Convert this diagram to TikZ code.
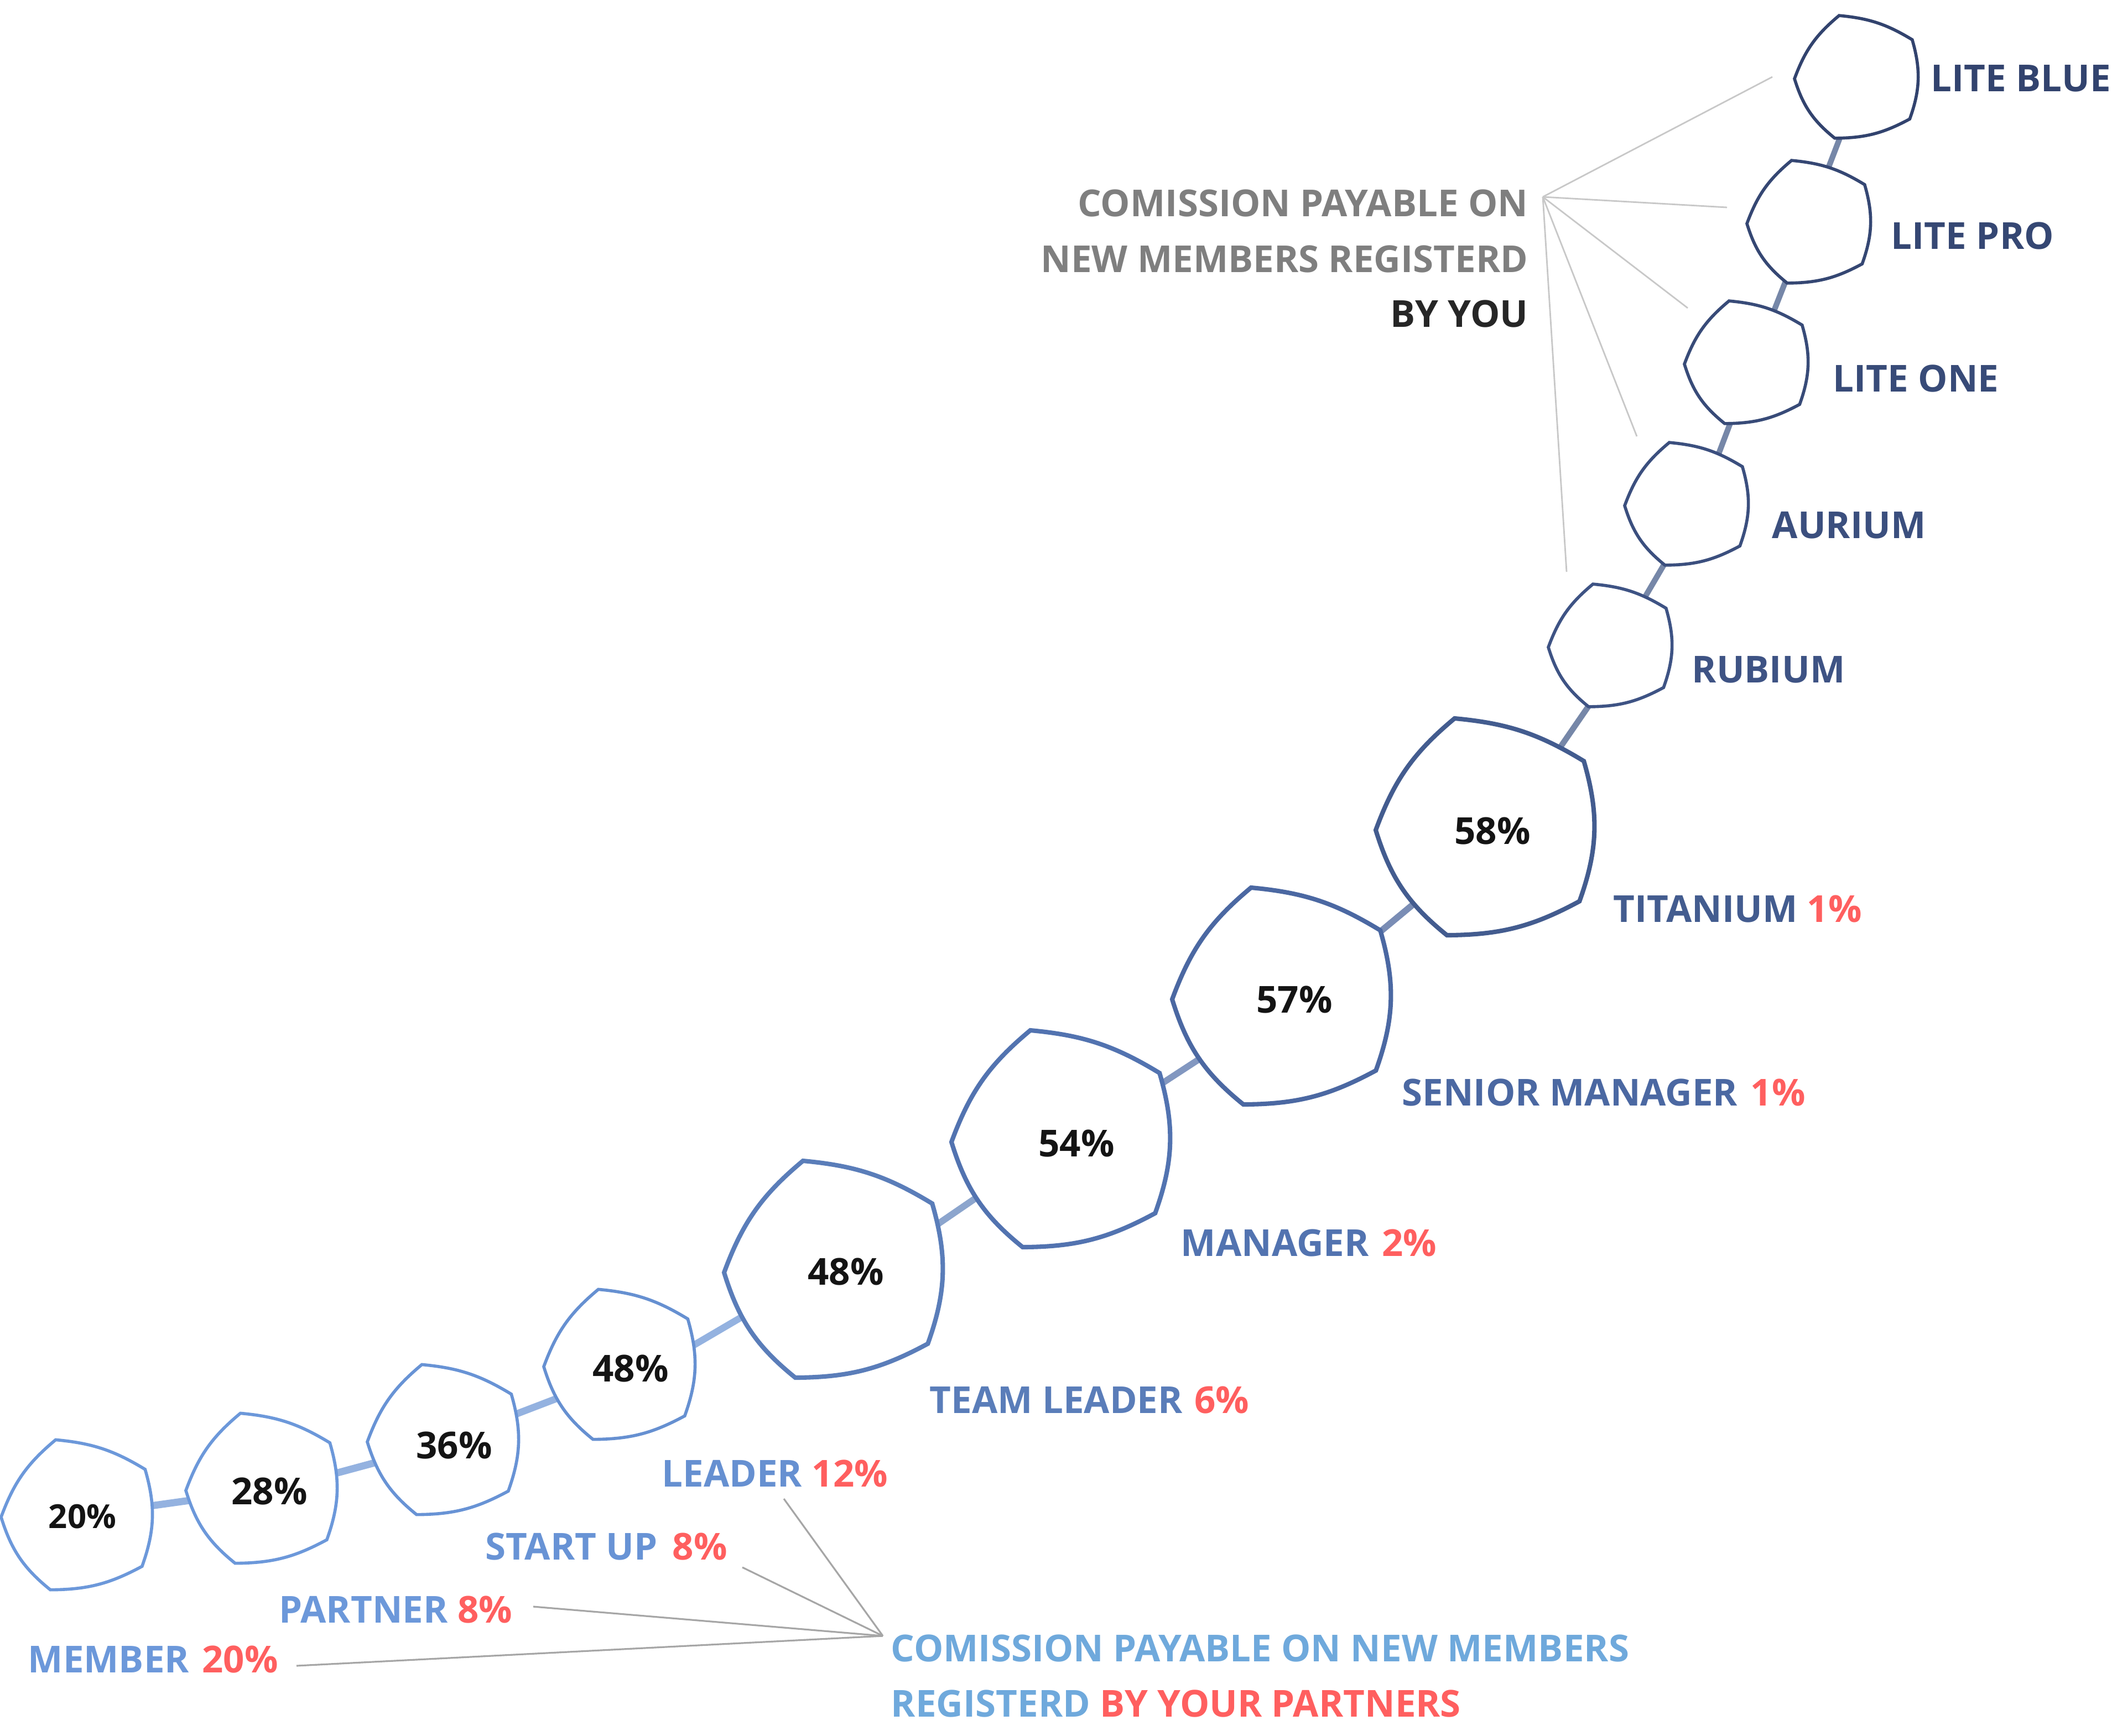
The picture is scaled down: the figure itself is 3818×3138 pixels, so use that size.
\documentclass[tikz,border=0pt]{standalone}
\usepackage{fontspec}
\setmainfont{Open Sans}
\usetikzlibrary{calc}
\definecolor{nA}{HTML}{6C98DA}
\definecolor{nB}{HTML}{6893D5}
\definecolor{nC}{HTML}{6690D1}
\definecolor{nD}{HTML}{5A7DB9}
\definecolor{nE}{HTML}{5273B0}
\definecolor{nF}{HTML}{4B68A2}
\definecolor{nG}{HTML}{435C8F}
\definecolor{nH}{HTML}{3E5384}
\definecolor{nI}{HTML}{3B4F7E}
\definecolor{nJ}{HTML}{384B78}
\definecolor{nK}{HTML}{354773}
\definecolor{nL}{HTML}{32436E}
\definecolor{cA}{HTML}{94B2E0}
\definecolor{cB}{HTML}{8CA5CD}
\definecolor{cC}{HTML}{8297C0}
\definecolor{cD}{HTML}{7A8DB5}
\definecolor{cE}{HTML}{7687A8}
\definecolor{redp}{HTML}{FF5F5F}
\definecolor{pctc}{HTML}{141414}
\definecolor{grayt}{HTML}{7F7F7F}
\definecolor{darkt}{HTML}{262626}
\definecolor{bluet}{HTML}{6FA9DC}
\definecolor{leadlight}{HTML}{C8C8C8}
\definecolor{leaddark}{HTML}{A6A6A6}
\tikzset{
  pics/badge/.style n args={3}{code={
    \draw[draw=#2, line width=#3, fill=white]
      (-0.28*#1,-0.99*#1) to[bend left=13] (0.9*#1,-0.6*#1)
      to[bend left=18] (0.86*#1,0.68*#1)
      to[bend left=14] (-0.35*#1,0.99*#1)
      to[bend left=17] (-1*#1,0.03*#1)
      to[bend left=15] (-0.28*#1,-0.99*#1) -- cycle;
  }},
  lbl/.style={inner sep=0pt, anchor=west, font=\fontsize{19.1pt}{23pt}\selectfont\bfseries},
  pct/.style={inner sep=0pt, text=pctc, font=\fontsize{19.1pt}{23pt}\selectfont\bfseries},
  conn/.style={line width=#1},
  leadA/.style={draw=leadlight, line width=0.8pt},
  leadB/.style={draw=leaddark, line width=0.9pt}
}
\begin{document}
\begin{tikzpicture}[x=0.01cm,y=-0.01cm]
\useasboundingbox (0,0) rectangle (3818,3138);
% shape centres
\coordinate (s1) at (139,2739);
\coordinate (s2) at (473,2691);
\coordinate (s3) at (801,2603);
\coordinate (s4) at (1120,2467);
\coordinate (s5) at (1507,2295);
\coordinate (s6) at (1918,2059);
\coordinate (s7) at (2317,1801);
\coordinate (s8) at (2685,1495);
\coordinate (s9) at (2911,1167);
\coordinate (s10) at (3049,911);
\coordinate (s11) at (3157,655);
\coordinate (s12) at (3270,401);
\coordinate (s13) at (3356,139);
% connectors
\draw[conn=3.7pt, cA] ($(s1)+(61,-6)$) -- ($(s2)+(-73,14)$);
\draw[conn=3.7pt, cA] ($(s2)+(67,-9)$) -- ($(s3)+(-61,25)$);
\draw[conn=3.6pt, cA] ($(s3)+(69,-22)$) -- ($(s4)+(-70,45)$);
\draw[conn=3.5pt, cA] ($(s4)+(80,-3)$) -- ($(s5)+(-87,40)$);
\draw[conn=3.4pt, cB] ($(s5)+(113,-30)$) -- ($(s6)+(-88,62)$);
\draw[conn=3.3pt, cC] ($(s6)+(112,-54)$) -- ($(s7)+(-77,67)$);
\draw[conn=3.3pt, cD] ($(s7)+(103,-54)$) -- ($(s8)+(-65,86)$);
\draw[conn=3.0pt, cE] ($(s8)+(95,-85)$) -- ($(s9)+(-16,76)$);
\draw[conn=2.9pt, cE] ($(s9)+(39,-47)$) -- ($(s10)+(-14,64)$);
\draw[conn=2.9pt, cE] ($(s10)+(41,-46)$) -- ($(s11)+(-12,65)$);
\draw[conn=2.9pt, cE] ($(s11)+(33,-50)$) -- ($(s12)+(-25,64)$);
\draw[conn=2.9pt, cE] ($(s12)+(25,-71)$) -- ($(s13)+(-11,61)$);
% shapes
\pic at (s1) {badge={137}{nA}{1.6pt}};
\pic at (s2) {badge={137}{nA}{1.6pt}};
\pic at (s3) {badge={137}{nB}{1.6pt}};
\pic at (s4) {badge={137}{nC}{1.6pt}};
\pic at (s5) {badge={198}{nD}{2.3pt}};
\pic at (s6) {badge={198}{nE}{2.3pt}};
\pic at (s7) {badge={198}{nF}{2.3pt}};
\pic at (s8) {badge={198}{nG}{2.3pt}};
\pic at (s9) {badge={112}{nH}{1.6pt}};
\pic at (s10) {badge={112}{nI}{1.6pt}};
\pic at (s11) {badge={112}{nJ}{1.6pt}};
\pic at (s12) {badge={112}{nK}{1.6pt}};
\pic at (s13) {badge={112}{nL}{1.6pt}};
% percentages
\node[pct, font=\fontsize{17pt}{20pt}\selectfont\bfseries] (p1) at (149,2742) {20\%};
\node[pct] (p2) at (487,2696) {28\%};
\node[pct] (p3) at (821,2613) {36\%};
\node[pct] (p4) at (1140,2474) {48\%};
\node[pct] (p5) at (1529,2299) {48\%};
\node[pct] (p6) at (1946,2067) {54\%};
\node[pct] (p7) at (2340,1807) {57\%};
\node[pct] (p8) at (2698,1502) {58\%};
% rank labels
\node[lbl, text=nA] (l1) at (50,3000) {MEMBER\hspace{0.35em}\textcolor{redp}{20\%}};
\node[lbl, text=nA] (l2) at (504,2910) {PARTNER \textcolor{redp}{8\%}};
\node[lbl, text=nB] (l3) at (877,2796) {START UP\hspace{0.4em}\textcolor{redp}{8\%}};
\node[lbl, text=nC] (l4) at (1196,2664) {LEADER \textcolor{redp}{12\%}};
\node[lbl, text=nD] (l5) at (1680,2531) {TEAM LEADER\hspace{0.32em}\textcolor{redp}{6\%}};
\node[lbl, text=nE] (l6) at (2134,2247) {MANAGER\hspace{0.35em}\textcolor{redp}{2\%}};
\node[lbl, text=nF] (l7) at (2534,1975) {SENIOR MANAGER\hspace{0.35em}\textcolor{redp}{1\%}};
\node[lbl, text=nG] (l8) at (2916,1643) {TITANIUM \textcolor{redp}{1\%}};
\node[lbl, text=nH] (l9) at (3058,1211) {RUBIUM};
\node[lbl, text=nI] (l10) at (3203,950) {AURIUM};
\node[lbl, text=nJ] (l11) at (3313,684) {LITE ONE};
\node[lbl, text=nK] (l12) at (3418,426) {LITE PRO};
\node[lbl, text=nL] (l13) at (3490,142) {LITE BLUE};
% commission texts
\node[lbl, anchor=east, text=grayt] (t1) at (2763,367) {COMISSION PAYABLE ON};
\node[lbl, anchor=east, text=grayt] (t2) at (2763,468) {NEW MEMBERS REGISTERD};
\node[lbl, anchor=east, text=darkt] (t3) at (2763,567) {BY YOU};
\node[lbl, text=bluet] (b1) at (1610,2980) {COMISSION PAYABLE ON NEW MEMBERS};
\node[lbl, text=bluet] (b2) at (1610,3080) {REGISTERD \textcolor{redp}{BY YOUR PARTNERS}};
% leader lines (top)
\coordinate (hubT) at (2789,356);
\coordinate (eT1) at (3204,139);
\coordinate (eT2) at (3122,375);
\coordinate (eT3) at (3051,557);
\coordinate (eT4) at (2959,789);
\coordinate (eT5) at (2832,1034);
\foreach \e in {eT1,eT2,eT3,eT4,eT5} \draw[leadA] (hubT) -- (\e);
% leader lines (bottom)
\coordinate (hubB) at (1596,2958);
\coordinate (eB1) at (536,3012);
\coordinate (eB2) at (964,2905);
\coordinate (eB3) at (1342,2834);
\coordinate (eB4) at (1417,2710);
\foreach \e in {eB1,eB2,eB3,eB4} \draw[leadB] (hubB) -- (\e);
\end{tikzpicture}
\end{document}
